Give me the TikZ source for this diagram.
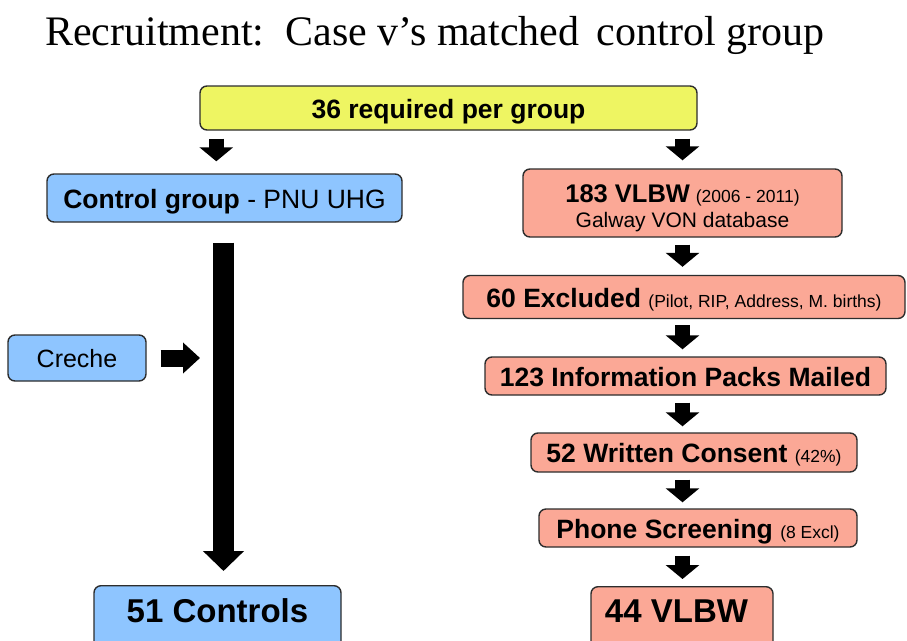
\documentclass[tikz,border=0pt]{standalone}
\usepackage{fontspec}
\setmainfont{Liberation Sans}
\newfontfamily\titlefont{Liberation Serif}
\usetikzlibrary{arrows.meta,calc}
\definecolor{boxyellow}{RGB}{238,245,98}
\definecolor{boxblue}{RGB}{142,197,255}
\definecolor{boxsalmon}{RGB}{251,168,150}
\definecolor{boxedge}{RGB}{45,45,45}
\tikzset{
  box/.style={draw=boxedge, line width=1.4pt, rounded corners=7pt, inner sep=0pt, align=center},
  ybox/.style={box, fill=boxyellow},
  bbox/.style={box, fill=boxblue},
  sbox/.style={box, fill=boxsalmon},
  bigtxt/.style={font=\fontsize{26.5}{30}\selectfont, text height=20pt, text depth=0pt},
  smallarrow/.style={line width=15pt, -{Triangle[width=33pt,length=14pt]}},
  longarrow/.style={line width=21pt, -{Triangle[width=40pt,length=20pt]}},
  sidearrow/.style={line width=17pt, -{Triangle[width=30pt,length=17pt]}},
}
\newcommand{\sm}[1]{{\fontsize{17.5}{20}\selectfont #1}}
\begin{document}
\begin{tikzpicture}[x=1pt,y=-1pt]
\useasboundingbox (0,0) rectangle (907,640);
\fill[white] (0,0) rectangle (907,640);
% title
\node[anchor=base west, inner sep=0pt, font=\titlefont\fontsize{42}{46}\selectfont] (title) at (45,45) {Recruitment:\, Case v’s matched\, control group};
% boxes
\node[ybox, minimum width=497pt, minimum height=44pt, bigtxt] (req) at (448.5,108) {\textbf{36 required per group}};
\node[bbox, minimum width=355pt, minimum height=48pt, bigtxt] (ctrl) at (224.5,198) {\textbf{Control group} - PNU UHG};
\node[sbox, minimum width=319pt, minimum height=68pt, font=\fontsize{21}{25}\selectfont] (v183) at (682.5,203) {\rule{0pt}{29pt}{\fontsize{25.5}{25}\selectfont\textbf{183 VLBW}} \sm{(2006 - 2011)}\\Galway VON database};
\node[sbox, minimum width=442pt, minimum height=43pt, bigtxt] (excl) at (684,297) {\textbf{60 Excluded} \sm{(Pilot, RIP, Address, M. births)}};
\node[sbox, minimum width=401pt, minimum height=38pt, bigtxt] (packs) at (685.5,376) {\textbf{123 Information Packs Mailed}};
\node[sbox, minimum width=326pt, minimum height=39pt, bigtxt] (consent) at (694,452.5) {\textbf{52 Written Consent} \sm{(42\%)}};
\node[sbox, minimum width=318pt, minimum height=38pt, bigtxt] (phone) at (698,528) {\textbf{Phone Screening} \sm{(8 Excl)}};
\node[sbox, anchor=north, minimum width=182pt, inner ysep=12pt, text height=24pt, text depth=40pt, font=\fontsize{33}{36}\selectfont\bfseries] (v44) at (682,586) {44 VLBW\,\,};
\node[bbox, anchor=north, minimum width=247pt, inner ysep=13pt, text height=24pt, text depth=40pt, font=\fontsize{33}{36}\selectfont\bfseries] (ctrls) at (217.5,585) {51 Controls};
\node[bbox, minimum width=138pt, minimum height=46pt, font=\fontsize{25}{30}\selectfont, text height=18pt, text depth=0pt] (creche) at (77,358) {Creche};
% arrows
\draw[smallarrow, shorten <=8pt, shorten >=12pt] ([xshift=17pt]req.south west) -- ([xshift=17pt]req.south west |- ctrl.north);
\draw[smallarrow, shorten <=8pt, shorten >=8pt] (req.south -| v183.north) -- (v183.north);
\draw[longarrow, shorten <=20pt, shorten >=14pt] ([xshift=-1pt]ctrl.south) -- ([xshift=-1pt]ctrl.south |- ctrls.north);
\coordinate (shaft) at ([xshift=-1pt]ctrl.south);
\draw[sidearrow, shorten <=14pt, shorten >=23.5pt] (creche.east) -- (creche.east -| shaft);
\draw[smallarrow, shorten <=7pt, shorten >=8pt] (v183.south) -- (v183.south |- excl.north);
\draw[smallarrow, shorten <=6pt, shorten >=7pt] (v183.south |- excl.south) -- (v183.south |- packs.north);
\draw[smallarrow, shorten <=7pt, shorten >=6pt] (v183.south |- packs.south) -- (v183.south |- consent.north);
\draw[smallarrow, shorten <=7pt, shorten >=6pt] (v183.south |- consent.south) -- (v183.south |- phone.north);
\draw[smallarrow, shorten <=8pt, shorten >=7pt] (v183.south |- phone.south) -- (v183.south |- v44.north);
\end{tikzpicture}
\end{document}
